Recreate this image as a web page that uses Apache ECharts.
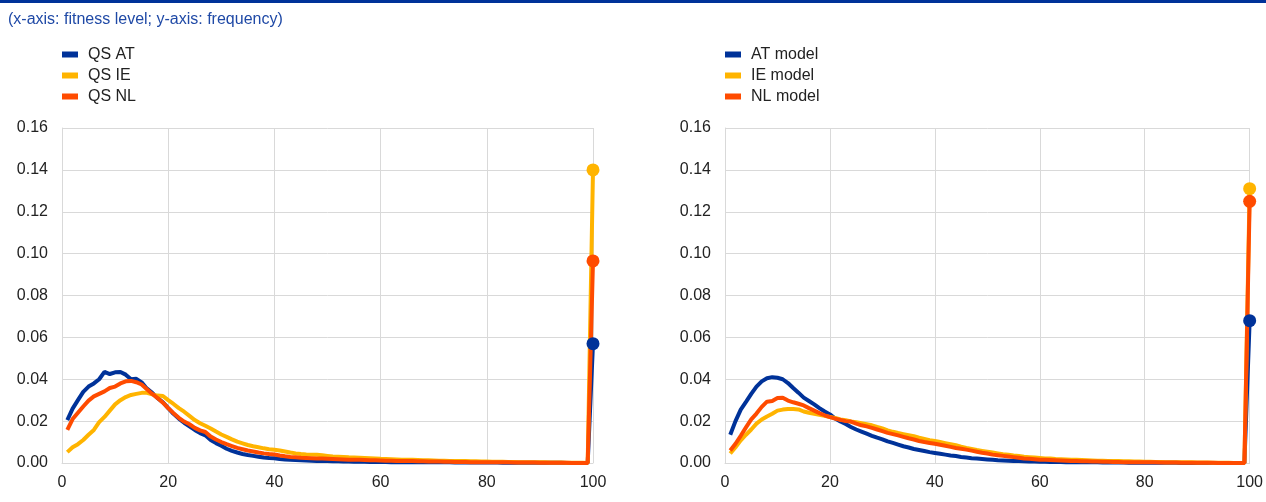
<!DOCTYPE html>
<html>
<head>
<meta charset="utf-8">
<script src="https://cdn.jsdelivr.net/npm/echarts@6/dist/echarts.min.js"></script>
<style>
html,body{margin:0;padding:0;background:#fff;}
#chart{width:1266px;height:502px;}
</style>
</head>
<body>
<div id="chart"></div>
<script>
// Fitness levels (x categories)
var fitnessLevels = [1,2,3,4,5,6,7,8,9,10,11,12,13,14,15,16,17,18,19,20,21,22,23,24,25,26,27,28,29,30,31,32,33,34,35,36,37,38,39,40,41,42,43,44,45,46,47,48,49,50,51,52,53,54,55,56,57,58,59,60,61,62,63,64,65,66,67,68,69,70,71,72,73,74,75,76,77,78,79,80,81,82,83,84,85,86,87,88,89,90,91,92,93,94,95,96,97,98,99,100];

var xTicks = [0, 20, 40, 60, 80, 100];
var yTicks = [0.00, 0.02, 0.04, 0.06, 0.08, 0.10, 0.12, 0.14, 0.16];

var leftNames = ['QS AT', 'QS IE', 'QS NL'];
var rightNames = ['AT model', 'IE model', 'NL model'];

// Left panel: QS
var qsAT = [
0.0205,0.0260,0.0300,0.0340,0.0365,0.0380,0.0400,0.0435,0.0425,0.0433,
0.0435,0.0422,0.0400,0.0402,0.0385,0.0355,0.0335,0.0310,0.0290,0.0262,
0.0235,0.0212,0.0192,0.0175,0.0158,0.0143,0.0132,0.0110,0.0095,0.0082,
0.0068,0.0058,0.0050,0.0043,0.0038,0.0034,0.0030,0.0026,0.0024,0.0023,
0.0019,0.0017,0.0016,0.0014,0.0013,0.0012,0.0011,0.0010,0.0010,0.0009,
0.0008,0.0008,0.0007,0.0007,0.0006,0.0006,0.0006,0.0005,0.0005,0.0005,
0.0005,0.0004,0.0004,0.0004,0.0004,0.0004,0.0003,0.0003,0.0003,0.0003,
0.0003,0.0003,0.0003,0.0002,0.0002,0.0002,0.0002,0.0002,0.0002,0.0002,
0.0002,0.0002,0.0001,0.0001,0.0001,0.0001,0.0001,0.0001,0.0001,0.0001,
0.0001,0.0001,0.0001,0.0001,0.0000,0.0000,0.0000,0.0000,0.0000,0.0570];

var qsIE = [
0.0052,0.0075,0.0090,0.0110,0.0135,0.0158,0.0195,0.0220,0.0250,0.0280,
0.0300,0.0315,0.0325,0.0330,0.0335,0.0335,0.0328,0.0322,0.0320,0.0300,
0.0282,0.0262,0.0245,0.0225,0.0205,0.0190,0.0178,0.0165,0.0150,0.0136,
0.0125,0.0113,0.0102,0.0094,0.0086,0.0080,0.0075,0.0070,0.0066,0.0063,
0.0060,0.0055,0.0050,0.0046,0.0043,0.0041,0.0040,0.0039,0.0037,0.0034,
0.0031,0.0030,0.0029,0.0027,0.0026,0.0025,0.0024,0.0023,0.0022,0.0020,
0.0019,0.0018,0.0017,0.0016,0.0016,0.0015,0.0014,0.0013,0.0013,0.0012,
0.0011,0.0011,0.0010,0.0010,0.0009,0.0009,0.0008,0.0008,0.0007,0.0007,
0.0006,0.0006,0.0006,0.0005,0.0005,0.0004,0.0004,0.0004,0.0003,0.0003,
0.0003,0.0002,0.0002,0.0002,0.0001,0.0001,0.0001,0.0001,0.0000,0.1400];

var qsNL = [
0.0158,0.0210,0.0240,0.0270,0.0298,0.0318,0.0330,0.0342,0.0358,0.0365,
0.0380,0.0390,0.0392,0.0386,0.0375,0.0352,0.0330,0.0310,0.0288,0.0262,
0.0238,0.0216,0.0198,0.0185,0.0168,0.0156,0.0148,0.0126,0.0112,0.0100,
0.0090,0.0081,0.0072,0.0066,0.0060,0.0055,0.0050,0.0046,0.0043,0.0041,
0.0036,0.0032,0.0029,0.0027,0.0025,0.0024,0.0023,0.0022,0.0021,0.0020,
0.0019,0.0018,0.0017,0.0016,0.0016,0.0015,0.0014,0.0013,0.0013,0.0012,
0.0011,0.0011,0.0010,0.0010,0.0009,0.0009,0.0008,0.0008,0.0007,0.0007,
0.0007,0.0006,0.0006,0.0005,0.0005,0.0005,0.0004,0.0004,0.0004,0.0004,
0.0003,0.0003,0.0003,0.0003,0.0002,0.0002,0.0002,0.0002,0.0002,0.0001,
0.0001,0.0001,0.0001,0.0001,0.0001,0.0000,0.0000,0.0000,0.0000,0.0965];

// Right panel: model
var modelAT = [
0.0135,0.0200,0.0255,0.0292,0.0330,0.0365,0.0390,0.0405,0.0410,0.0407,
0.0400,0.0382,0.0358,0.0336,0.0312,0.0296,0.0280,0.0262,0.0246,0.0232,
0.0212,0.0198,0.0186,0.0172,0.0160,0.0150,0.0140,0.0130,0.0121,0.0113,
0.0103,0.0096,0.0088,0.0080,0.0074,0.0067,0.0062,0.0057,0.0052,0.0048,
0.0044,0.0040,0.0036,0.0033,0.0029,0.0026,0.0023,0.0021,0.0019,0.0017,
0.0015,0.0013,0.0012,0.0011,0.0010,0.0009,0.0008,0.0007,0.0007,0.0006,
0.0006,0.0005,0.0005,0.0005,0.0004,0.0004,0.0004,0.0003,0.0003,0.0003,
0.0003,0.0002,0.0002,0.0002,0.0002,0.0002,0.0001,0.0001,0.0001,0.0001,
0.0001,0.0001,0.0001,0.0001,0.0001,0.0001,0.0000,0.0000,0.0000,0.0000,
0.0000,0.0000,0.0000,0.0000,0.0000,0.0000,0.0000,0.0000,0.0000,0.0680];

var modelIE = [
0.0045,0.0075,0.0108,0.0135,0.0160,0.0188,0.0208,0.0222,0.0235,0.0250,
0.0255,0.0258,0.0258,0.0256,0.0246,0.0240,0.0235,0.0230,0.0225,0.0220,
0.0215,0.0208,0.0204,0.0198,0.0195,0.0190,0.0185,0.0180,0.0172,0.0165,
0.0156,0.0149,0.0143,0.0138,0.0133,0.0128,0.0121,0.0115,0.0109,0.0105,
0.0100,0.0095,0.0090,0.0085,0.0078,0.0072,0.0067,0.0062,0.0058,0.0054,
0.0050,0.0046,0.0042,0.0040,0.0036,0.0033,0.0030,0.0028,0.0026,0.0024,
0.0022,0.0021,0.0019,0.0018,0.0017,0.0016,0.0015,0.0014,0.0013,0.0012,
0.0011,0.0011,0.0010,0.0009,0.0009,0.0008,0.0008,0.0007,0.0007,0.0006,
0.0006,0.0005,0.0005,0.0004,0.0004,0.0004,0.0003,0.0003,0.0003,0.0002,
0.0002,0.0002,0.0001,0.0001,0.0001,0.0001,0.0000,0.0000,0.0000,0.1310];

var modelNL = [
0.0060,0.0092,0.0130,0.0170,0.0208,0.0236,0.0268,0.0293,0.0296,0.0310,
0.0312,0.0298,0.0290,0.0283,0.0275,0.0262,0.0250,0.0238,0.0228,0.0219,
0.0212,0.0206,0.0200,0.0198,0.0188,0.0180,0.0175,0.0168,0.0160,0.0152,
0.0144,0.0138,0.0132,0.0125,0.0118,0.0112,0.0105,0.0100,0.0096,0.0092,
0.0087,0.0082,0.0077,0.0072,0.0068,0.0064,0.0059,0.0054,0.0049,0.0045,
0.0040,0.0037,0.0034,0.0031,0.0028,0.0025,0.0022,0.0020,0.0018,0.0016,
0.0015,0.0014,0.0013,0.0012,0.0011,0.0010,0.0009,0.0008,0.0008,0.0007,
0.0007,0.0006,0.0006,0.0005,0.0005,0.0004,0.0004,0.0004,0.0003,0.0003,
0.0003,0.0003,0.0002,0.0002,0.0002,0.0002,0.0001,0.0001,0.0001,0.0001,
0.0001,0.0001,0.0001,0.0000,0.0000,0.0000,0.0000,0.0000,0.0000,0.1250];

var colors = ['#003299', '#ffb400', '#ff4b00'];
var FONT = "'Liberation Sans', Arial, sans-serif";
var gridColor = '#d9d9d9';

function pairs(vals) {
  return fitnessLevels.map(function (x, i) { return [x, vals[i]]; });
}

function makeX(gi) {
  return {
    type: 'value', gridIndex: gi,
    min: xTicks[0], max: xTicks[xTicks.length - 1], interval: xTicks[1] - xTicks[0],
    axisLine: { show: true, lineStyle: { color: gridColor, width: 1 } },
    axisTick: { show: false },
    splitLine: { show: true, lineStyle: { color: gridColor, width: 1 } },
    axisLabel: { color: '#222', fontSize: 16, fontFamily: FONT, margin: 12 }
  };
}
function makeY(gi) {
  return {
    type: 'value', gridIndex: gi,
    min: yTicks[0], max: yTicks[yTicks.length - 1], interval: yTicks[1] - yTicks[0],
    axisLine: { show: true, lineStyle: { color: gridColor, width: 1 } },
    axisTick: { show: false },
    splitLine: { show: true, lineStyle: { color: gridColor, width: 1 } },
    axisLabel: { color: '#222', fontSize: 16, fontFamily: FONT, margin: 14,
      formatter: function (v) { return v.toFixed(2); } }
  };
}
function makeSeries(name, vals, ci, gi) {
  var n = vals.length;
  return {
    name: name, type: 'line', xAxisIndex: gi, yAxisIndex: gi,
    data: pairs(vals),
    symbol: 'circle',
    showSymbol: true,
    symbolSize: function (v, p) { return p.dataIndex === n - 1 ? 13 : 0; },
    lineStyle: { color: colors[ci], width: 4 },
    itemStyle: { color: colors[ci] },
    animation: false, silent: true, clip: false
  };
}
function makeLegend(names, left) {
  return {
    orient: 'vertical', left: left, top: 44, padding: 0, itemGap: 0,
    itemWidth: 16, itemHeight: 6, icon: 'rect',
    data: names,
    textStyle: { fontSize: 16, fontFamily: FONT, color: '#222', lineHeight: 21, padding: [0, 0, 0, 5] },
    selectedMode: false
  };
}

var chart = echarts.init(document.getElementById('chart'), null, { renderer: 'canvas' });
chart.setOption({
  animation: false,
  backgroundColor: '#fff',
  title: {
    text: '(x-axis: fitness level; y-axis: frequency)',
    left: 8, top: 12, padding: 0,
    textStyle: { fontSize: 16, fontWeight: 'normal', color: '#1f49a6', fontFamily: FONT }
  },
  graphic: [{ type: 'rect', left: 0, top: 0, shape: { width: 1266, height: 3 }, style: { fill: '#003299' }, silent: true }],
  legend: [makeLegend(leftNames, 62), makeLegend(rightNames, 725)],
  grid: [
    { left: 62, top: 128, width: 531, height: 335, containLabel: false },
    { left: 725, top: 128, width: 530, height: 335, containLabel: false }
  ],
  xAxis: [makeX(0), makeX(1)],
  yAxis: [makeY(0), makeY(1)],
  series: [
    makeSeries(leftNames[0], qsAT, 0, 0),
    makeSeries(leftNames[1], qsIE, 1, 0),
    makeSeries(leftNames[2], qsNL, 2, 0),
    makeSeries(rightNames[0], modelAT, 0, 1),
    makeSeries(rightNames[1], modelIE, 1, 1),
    makeSeries(rightNames[2], modelNL, 2, 1)
  ]
});
</script>
</body>
</html>
